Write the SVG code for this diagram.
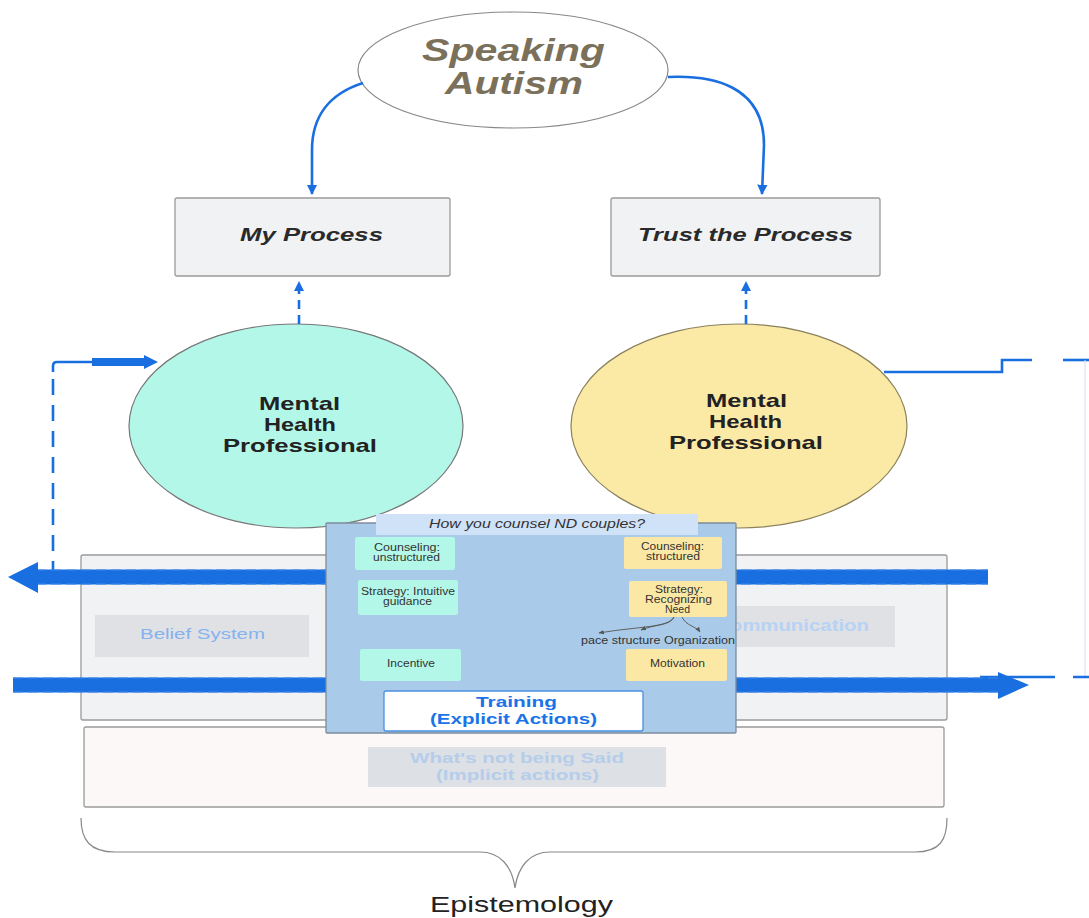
<svg xmlns="http://www.w3.org/2000/svg" width="1089" height="918" viewBox="0 0 1089 918">
<defs>
<style>
text{font-family:"Liberation Sans",Arial,sans-serif;}
.box{fill:#f1f2f4;stroke:#9a9a9a;stroke-width:1.3;}
.thin{fill:none;stroke:#1a6fe0;stroke-width:2.6;}
.fat{stroke:#1a6fe0;stroke-width:15;fill:none;}
.fatdash{stroke:#3f86e6;stroke-width:1.2;stroke-dasharray:10 5;fill:none;}
.mint{fill:#b3f7e8;}
.yel{fill:#fbe8a4;}
.small{font-size:10px;fill:#333;}
.hd{font-size:31px;font-weight:bold;font-style:italic;fill:#7b705a;}
.pr{font-size:19px;font-weight:bold;font-style:italic;fill:#2a2a2a;}
.mh{font-size:19px;font-weight:bold;fill:#222;}
</style>
<marker id="ah" viewBox="0 0 10 10" refX="9" refY="5" markerWidth="4" markerHeight="4" orient="auto" markerUnits="strokeWidth"><path d="M0,0 L10,5 L0,10 z" fill="#1a6fe0"/></marker>
<marker id="sh" viewBox="0 0 10 10" refX="9" refY="5" markerWidth="6" markerHeight="6" orient="auto" markerUnits="strokeWidth"><path d="M0,1 L10,5 L0,9 z" fill="#555"/></marker>
</defs>
<rect width="1089" height="918" fill="#ffffff"/>

<g id="speaking-autism">
<ellipse cx="513" cy="70" rx="155" ry="58" fill="#fff" stroke="#888" stroke-width="1.2"/>
<text class="hd" x="422" y="61" textLength="183" lengthAdjust="spacingAndGlyphs">Speaking</text>
<text class="hd" x="445" y="94" textLength="138" lengthAdjust="spacingAndGlyphs">Autism</text>
</g>

<g id="my-process">
<rect class="box" x="175" y="198" width="275" height="78" rx="2"/>
<text class="pr" x="240" y="241" textLength="143" lengthAdjust="spacingAndGlyphs">My Process</text>
</g>
<g id="trust-process">
<rect class="box" x="611" y="198" width="269" height="78" rx="2"/>
<text class="pr" x="638" y="241" textLength="215" lengthAdjust="spacingAndGlyphs">Trust the Process</text>
</g>

<g id="mhp-left">
<ellipse cx="296" cy="426" rx="167" ry="102" fill="#b3f7e9" stroke="#777" stroke-width="1.2"/>
<text class="mh" x="259" y="410" textLength="81" lengthAdjust="spacingAndGlyphs">Mental</text>
<text class="mh" x="264" y="431" textLength="72" lengthAdjust="spacingAndGlyphs">Health</text>
<text class="mh" x="223" y="452" textLength="154" lengthAdjust="spacingAndGlyphs">Professional</text>
</g>
<g id="mhp-right">
<ellipse cx="739" cy="426" rx="168" ry="102" fill="#fbe9a6" stroke="#8a805c" stroke-width="1.2"/>
<text class="mh" x="706" y="407" textLength="81" lengthAdjust="spacingAndGlyphs">Mental</text>
<text class="mh" x="709" y="428" textLength="73" lengthAdjust="spacingAndGlyphs">Health</text>
<text class="mh" x="669" y="449" textLength="154" lengthAdjust="spacingAndGlyphs">Professional</text>
</g>

<g id="middle-band">
<rect class="box" x="81" y="555" width="866" height="165" rx="2" fill="#f0f1f3"/>
<rect x="95" y="615" width="214" height="42" fill="#dfe1e5"/>
<text x="140" y="639" font-size="15" fill="#86b2ee" textLength="125" lengthAdjust="spacingAndGlyphs">Belief System</text>
<rect x="689" y="606" width="206" height="41" fill="#dfe1e5"/>
<text x="715" y="631" font-size="17" font-weight="bold" fill="#b7d2f4" textLength="154" lengthAdjust="spacingAndGlyphs">Communication</text>
</g>

<g id="implicit-band">
<rect x="84" y="727" width="860" height="80" rx="2" fill="#fdf8f8" stroke="#9a9a9a" stroke-width="1.3"/>
<rect x="368" y="747" width="298" height="40" fill="#dde0e4"/>
<text x="410" y="763" font-size="15" font-weight="bold" fill="#b5cdeb" textLength="214" lengthAdjust="spacingAndGlyphs">What's not being Said</text>
<text x="436" y="780" font-size="15" font-weight="bold" fill="#b5cdeb" textLength="163" lengthAdjust="spacingAndGlyphs">(Implicit actions)</text>
</g>

<g id="connectors">
<path class="thin" d="M363,83 C328,94 312,118 312,150 L312,194" marker-end="url(#ah)"/>
<path class="thin" d="M668,77 C712,75 764,85 764,145 L762,194" marker-end="url(#ah)"/>
<path class="thin" d="M299,324 L299,282" stroke-dasharray="9 6" marker-end="url(#ah)"/>
<path class="thin" d="M746,324 L746,282" stroke-dasharray="9 6" marker-end="url(#ah)"/>
<!-- left loop -->
<path class="thin" d="M53,577 L53,370" stroke-dasharray="16 10" stroke-width="3"/>
<path class="thin" d="M53,372 L53,366 Q53,362 57,362 L92,362"/>
<path d="M92,362 L146,362" stroke="#1a6fe0" stroke-width="8" fill="none"/>
<path d="M144,355 L158,362 L144,369 z" fill="#1a6fe0"/>
<!-- right loop -->
<path class="thin" d="M884,372 L1002,372 L1002,360 L1032,360"/>
<path class="thin" d="M1063,360 L1089,360"/>
<path d="M1085,360 L1085,677" fill="none" stroke="#d6dde8" stroke-width="1"/>
<path class="thin" d="M980,677 L1055,677 M1073,677 L1089,677"/>
<!-- thick arrows -->
<line class="fat" x1="36" y1="577" x2="988" y2="577"/>
<line class="fatdash" x1="36" y1="570" x2="988" y2="570"/>
<line class="fatdash" x1="36" y1="584" x2="988" y2="584"/>
<path d="M38,562 L8,577 L38,593 z" fill="#1a6fe0"/>
<line class="fat" x1="13" y1="685" x2="1000" y2="685"/>
<line class="fatdash" x1="13" y1="678" x2="1000" y2="678"/>
<line class="fatdash" x1="13" y1="692" x2="1000" y2="692"/>
<path d="M998,672 L1029,685 L998,699 z" fill="#1a6fe0"/>
</g>

<g id="counsel-panel">
<rect x="326" y="523" width="410" height="210" fill="#a9cbe9" stroke="#7d8c9c" stroke-width="1.3" rx="1"/>
<rect x="376" y="514" width="322" height="21" fill="#cfe2f8"/>
<text x="429" y="528" font-size="12" font-style="italic" fill="#333" textLength="216" lengthAdjust="spacingAndGlyphs">How  you counsel ND couples?</text>
<rect class="mint" x="355" y="537" width="100" height="33" rx="2"/>
<text class="small" x="374" y="551" textLength="66" lengthAdjust="spacingAndGlyphs">Counseling:</text>
<text class="small" x="373" y="561" textLength="67" lengthAdjust="spacingAndGlyphs">unstructured</text>
<rect class="mint" x="358" y="580" width="100" height="35" rx="2"/>
<text class="small" x="361" y="595" textLength="94" lengthAdjust="spacingAndGlyphs">Strategy: Intuitive</text>
<text class="small" x="383" y="605" textLength="49" lengthAdjust="spacingAndGlyphs">guidance</text>
<rect class="mint" x="360" y="649" width="101" height="32" rx="2"/>
<text class="small" x="387" y="667" textLength="48" lengthAdjust="spacingAndGlyphs">Incentive</text>
<rect class="yel" x="624" y="537" width="98" height="32" rx="2"/>
<text class="small" x="641" y="550" textLength="63" lengthAdjust="spacingAndGlyphs">Counseling:</text>
<text class="small" x="646" y="560" textLength="54" lengthAdjust="spacingAndGlyphs">structured</text>
<rect class="yel" x="629" y="581" width="98" height="36" rx="2"/>
<text class="small" x="655" y="593" textLength="48" lengthAdjust="spacingAndGlyphs">Strategy:</text>
<text class="small" x="645" y="603" textLength="67" lengthAdjust="spacingAndGlyphs">Recognizing</text>
<text class="small" x="665" y="613" textLength="25" lengthAdjust="spacingAndGlyphs">Need</text>
<path d="M674,617 C668,628 640,626 599,633" fill="none" stroke="#555" stroke-width="0.9" marker-end="url(#sh)"/>
<path d="M674,617 C670,626 655,624 641,630" fill="none" stroke="#555" stroke-width="0.9" marker-end="url(#sh)"/>
<path d="M682,617 C686,626 696,626 700,632" fill="none" stroke="#555" stroke-width="0.9" marker-end="url(#sh)"/>
<text class="small" x="581" y="644" textLength="154" lengthAdjust="spacingAndGlyphs">pace  structure  Organization</text>
<rect class="yel" x="626" y="649" width="101" height="32" rx="2"/>
<text class="small" x="650" y="667" textLength="55" lengthAdjust="spacingAndGlyphs">Motivation</text>
<rect x="384" y="691" width="259" height="40" rx="2" fill="#fff" stroke="#4a90e2" stroke-width="1.3"/>
<text x="476" y="707" font-size="15" font-weight="bold" fill="#1a73e8" textLength="81" lengthAdjust="spacingAndGlyphs">Training</text>
<text x="430" y="724" font-size="15" font-weight="bold" fill="#1a73e8" textLength="167" lengthAdjust="spacingAndGlyphs">(Explicit Actions)</text>
</g>

<g id="epistemology">
<path d="M81,818 C81,840 90,852 115,852 L480,852 C500,852 512,866 515,888 C518,866 530,852 550,852 L915,852 C940,852 947,840 947,818" fill="none" stroke="#888" stroke-width="1.2"/>
<text x="430" y="912" font-size="22" fill="#222" textLength="183" lengthAdjust="spacingAndGlyphs">Epistemology</text>
</g>
</svg>
